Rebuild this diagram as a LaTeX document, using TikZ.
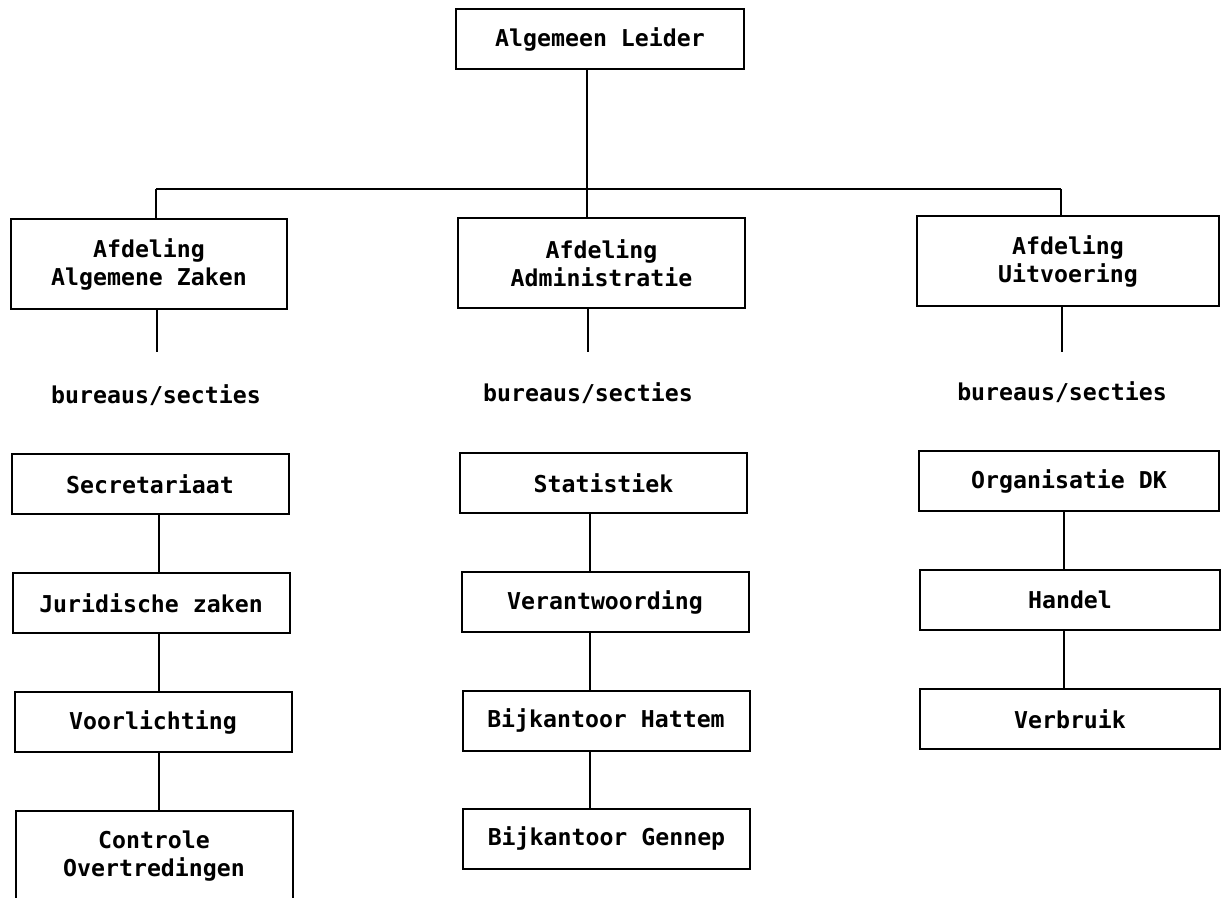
\documentclass[tikz,border=0pt]{standalone}
\usepackage{fontspec}
\setmonofont{DejaVu Sans Mono}

\begin{document}
\begin{tikzpicture}[x=0.5pt,y=-0.5pt,
	every node/.style={font=\ttfamily\bfseries\fontsize{11.6}{14}\selectfont},
	box/.style={draw,line width=1pt,align=center,inner sep=0pt,minimum height=30pt},
	afd/.style={box,minimum height=45pt},
	line/.style={line width=1pt}]
\useasboundingbox (0,0) rectangle (1221,898);

\node[box,minimum width=144pt] (leider) at (600,39.5) {Algemeen Leider};

\node[afd,minimum width=138pt] (algzaken) at (149,264) {Afdeling\\Algemene Zaken};
\node[afd,minimum width=143.5pt] (admin) at (601.5,263) {Afdeling\\Administratie};
\node[afd,minimum width=151pt] (uitvoering) at (1068,261) {Afdeling\\Uitvoering};

\node (bur1) at (156,395) {bureaus/secties};
\node (bur2) at (588,393) {bureaus/secties};
\node (bur3) at (1062,392) {bureaus/secties};

\node[box,minimum width=138.5pt] (secretariaat) at (150,484.5) {Secretariaat};
\node[box,minimum width=138.5pt] (juridisch) at (151,603) {Juridische zaken};
\node[box,minimum width=138.5pt] (voorlichting) at (153,722) {Voorlichting};
\node[afd,minimum width=138.5pt] (controle) at (154,856) {Controle\\Overtredingen};

\node[box,minimum width=143.5pt] (statistiek) at (603.5,483) {Statistiek};
\node[box,minimum width=143.5pt] (verantw) at (605,602) {Verantwoording};
\node[box,minimum width=143.5pt] (hattem) at (606,720.5) {Bijkantoor Hattem};
\node[box,minimum width=143.5pt] (gennep) at (606.5,838.5) {Bijkantoor Gennep};

\node[box,minimum width=150pt] (organisatie) at (1069,481.5) {Organisatie DK};
\node[box,minimum width=150pt] (handel) at (1070,600) {Handel};
\node[box,minimum width=150pt] (verbruik) at (1070,719) {Verbruik};

\coordinate (j1) at (156,189);
\coordinate (j2) at (587,189);
\coordinate (j3) at (1061,189);
\coordinate (e1) at (157,352);
\coordinate (e2) at (588,352);
\coordinate (e3) at (1062,352);

\draw[line] (leider.south -| j2) -- (j2);
\draw[line] (j1) -- (j3);
\draw[line] (j1) -- (algzaken.north -| j1);
\draw[line] (j2) -- (admin.north -| j2);
\draw[line] (j3) -- (uitvoering.north -| j3);
\draw[line] (algzaken.south -| e1) -- (e1);
\draw[line] (admin.south -| e2) -- (e2);
\draw[line] (uitvoering.south -| e3) -- (e3);

\foreach \a/\b/\c in {secretariaat/juridisch/e1, juridisch/voorlichting/e1, voorlichting/controle/e1,
	statistiek/verantw/e2, verantw/hattem/e2, hattem/gennep/e2,
	organisatie/handel/e3, handel/verbruik/e3}
	\draw[line] ([xshift=1pt]\a.south -| \c) -- ([xshift=1pt]\b.north -| \c);

\end{tikzpicture}
\end{document}
